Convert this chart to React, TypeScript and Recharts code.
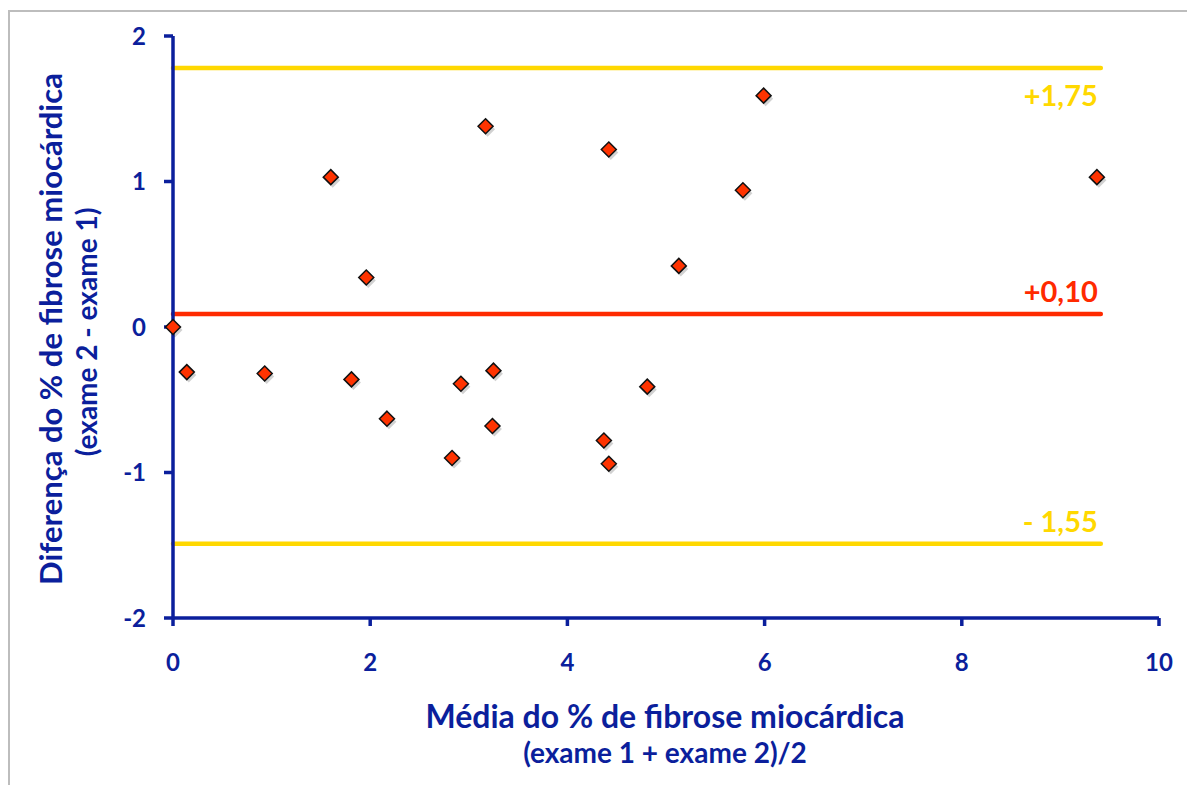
import React from 'react'
import {
  ScatterChart,
  Scatter,
  XAxis,
  YAxis,
  ReferenceLine,
  Label,
} from 'recharts'

// média (x) e diferença (y) entre os dois exames
const mediaValues = [0, 0.14, 0.93, 1.6, 1.81, 1.96, 2.17, 2.83, 2.92, 3.17, 3.25, 3.24, 4.37, 4.42, 4.42, 4.81, 5.13, 5.78, 5.99, 9.37]
const diferencaValues = [0, -0.31, -0.32, 1.03, -0.36, 0.34, -0.63, -0.9, -0.39, 1.38, -0.3, -0.68, -0.78, 1.22, -0.94, -0.41, 0.42, 0.94, 1.59, 1.03]

const xTicks = [0, 2, 4, 6, 8, 10]
const yTicks = [-2, -1, 0, 1, 2]

// limites de concordância (posição desenhada) e rótulos
const limitValues = [1.78, 0.09, -1.49]
const limitLabels = ['+1,75', '+0,10', '- 1,55']
const limitEnd = 9.41

const BLUE = '#0b1f9c'
const YELLOW = '#ffd800'
const RED = '#ff2a00'
const FONT = 'Lato, "Open Sans", sans-serif'

const points = mediaValues.map((x, i) => ({ x, y: diferencaValues[i] }))

const Diamond = (props: any) => {
  const { cx, cy } = props
  const r = 7.5
  const pts = (dx: number, dy: number) =>
    `${cx + dx},${cy + dy - r} ${cx + dx + r},${cy + dy} ${cx + dx},${cy + dy + r} ${cx + dx - r},${cy + dy}`
  return (
    <g>
      <polygon points={pts(2, 3)} fill="#000" opacity={0.18} />
      <polygon points={pts(0, 0)} fill="#ff3300" stroke="#111" strokeWidth={1.5} />
    </g>
  )
}

const limitLabel = (text: string, color: string, below: boolean) => (props: any) => {
  const vb = props.viewBox || {}
  const xEnd = (vb.x ?? 0) + (vb.width ?? 0) - 3
  const y = (vb.y ?? 0) + (below ? 38 : -12)
  return (
    <text x={xEnd} y={y} textAnchor="end" fill={color} fontFamily={FONT} fontWeight={700} fontSize={29}>
      {text}
    </text>
  )
}

const XTitle = () => (
  <g fontFamily={FONT} fontWeight={700} fill={BLUE} textAnchor="middle">
    <text x={665} y={728} fontSize={32}>Média do % de fibrose miocárdica</text>
    <text x={665} y={763} fontSize={28}>(exame 1 + exame 2)/2</text>
  </g>
)

const YTitle = () => (
  <g fontFamily={FONT} fontWeight={700} fill={BLUE} textAnchor="middle">
    <text x={0} y={0} fontSize={31} transform="translate(62 329) rotate(-90)">
      Diferença do % de fibrose miocárdica
    </text>
    <text x={0} y={0} fontSize={28} transform="translate(97 332) rotate(-90)">
      (exame 2 - exame 1)
    </text>
  </g>
)

export default function App() {
  const tickStyle = { fill: BLUE, fontFamily: FONT, fontWeight: 700, fontSize: 24 }
  return (
    <div style={{ position: 'absolute', left: 0, top: 0, width: 1187, height: 785, background: '#fff' }}>
      <div
        style={{
          position: 'absolute',
          left: 8,
          top: 10,
          right: 0,
          bottom: 0,
          borderLeft: '2px solid #bdbdbd',
          borderTop: '2px solid #bdbdbd',
        }}
      />
      <div style={{ position: 'absolute', left: 0, top: 0 }}>
        <ScatterChart width={1187} height={785} margin={{ top: 36, right: 28, bottom: 117, left: 113 }}>
          <XAxis
            type="number"
            dataKey="x"
            domain={[0, 10]}
            ticks={xTicks}
            height={50}
            axisLine={{ stroke: BLUE, strokeWidth: 3.5 }}
            tickLine={{ stroke: BLUE, strokeWidth: 3.5 }}
            tickSize={8}
            tickMargin={28}
            tick={tickStyle}
          >
            <Label content={() => <XTitle />} />
          </XAxis>
          <YAxis
            type="number"
            dataKey="y"
            domain={[-2, 2]}
            ticks={yTicks}
            width={60}
            axisLine={{ stroke: BLUE, strokeWidth: 3.5 }}
            tickLine={{ stroke: BLUE, strokeWidth: 3.5 }}
            tickSize={9}
            tickMargin={18}
            tick={tickStyle}
          >
            <Label content={() => <YTitle />} />
          </YAxis>
          {limitValues.map((v, i) => {
            const color = i === 1 ? RED : YELLOW
            return (
              <ReferenceLine
                key={i}
                segment={[
                  { x: 0, y: v },
                  { x: limitEnd, y: v },
                ]}
                stroke={color}
                strokeWidth={4.5}
                strokeLinecap="round"
                ifOverflow="visible"
                label={limitLabel(limitLabels[i], color, i === 0)}
              />
            )
          })}
          <Scatter data={points} shape={<Diamond />} isAnimationActive={false} />
        </ScatterChart>
      </div>
    </div>
  )
}
